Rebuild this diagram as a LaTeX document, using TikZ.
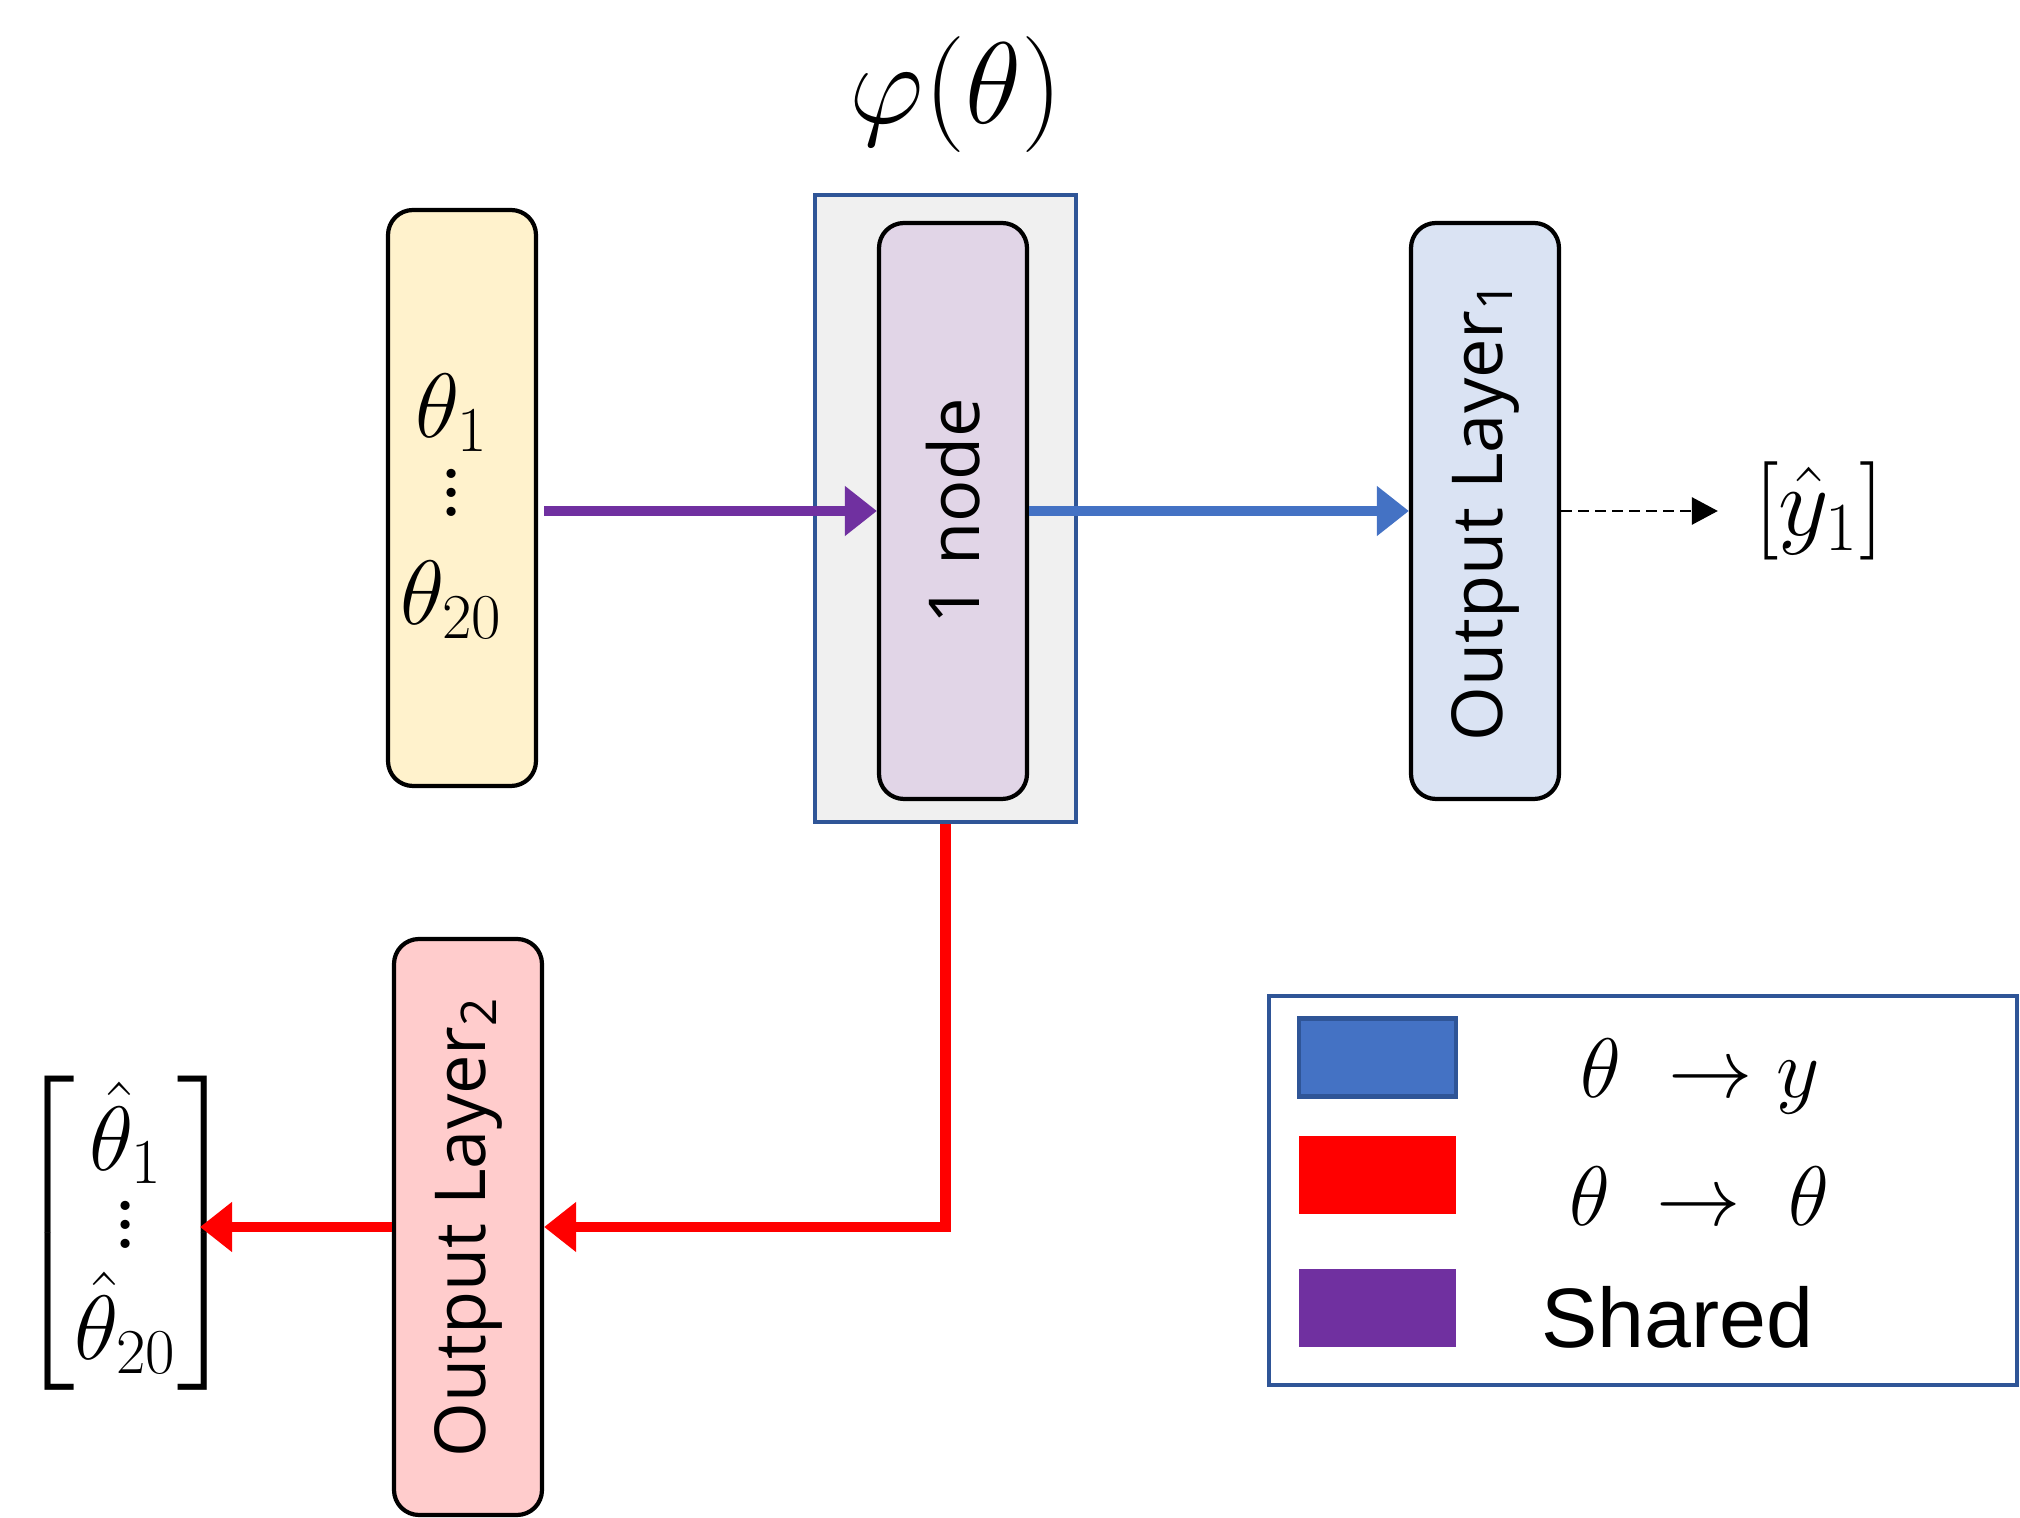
\documentclass[tikz,border=0pt]{standalone}
\usepackage{fix-cm}
\usepackage{amsmath}
\usepackage{fontspec}
\setsansfont{Open Sans}
\newfontfamily\arialfont{Liberation Sans}
\usetikzlibrary{arrows.meta,positioning}

\definecolor{inyellow}{HTML}{FFF2CC}
\definecolor{hidpurple}{HTML}{E1D5E7}
\definecolor{outblue}{HTML}{DAE3F3}
\definecolor{outred}{HTML}{FFCCCC}
\definecolor{sharedgrey}{HTML}{F0F0F0}
\definecolor{frameblue}{HTML}{2F5597}
\definecolor{arrpurple}{HTML}{7030A0}
\definecolor{arrblue}{HTML}{4472C4}
\definecolor{arrred}{HTML}{FF0000}

\newcommand{\tallvdots}{\vbox{\offinterlineskip\fontsize{32}{32}\selectfont\hbox{.}\kern2.8pt\hbox{.}\kern2.8pt\hbox{.}}}

\begin{document}
\begin{tikzpicture}[x=1cm,y=1cm,
    layer/.style={draw=black, line width=1.2pt, rounded corners=2.5mm, minimum width=1.48cm, minimum height=5.76cm, inner sep=0pt},
    vlabel/.style={rotate=90, font=\sffamily\fontsize{20}{24}\selectfont},
    flow/.style={line width=3pt, -{Triangle[length=3.2mm,width=4.8mm]}},
    swatch/.style={minimum width=1.57cm, minimum height=0.78cm, inner sep=0pt},
    bigmath/.style={font=\fontsize{24}{26}\selectfont}]
    \useasboundingbox (0,0) rectangle (20.2,15.18);
    \node[draw=frameblue, fill=sharedgrey, line width=1pt, minimum width=2.61cm, minimum height=6.27cm] (shared) at (9.455,10.095) {};
    \node[font=\fontsize{33}{38}\selectfont] (phi) at (9.56,14.23) {$\varphi(\theta)$};
    \node[layer, fill=inyellow] (in) at (4.62,10.20) {};
    \node[layer, fill=hidpurple] (hid) at (9.53,10.07) {};
    \node[layer, fill=outblue] (out1) at (14.85,10.07) {};
    \node[layer, fill=outred] (out2) at (4.68,2.91) {};
    \node[font=\fontsize{26}{26}\selectfont, align=center] at (4.52,10.12) {$\theta_1$\\[-3.5pt]\tallvdots\\[4.7pt]$\theta_{20}$};
    \node[vlabel] at (hid) {1 node};
    \node[vlabel] at (out1) {Output Layer\textsubscript{1}};
    \node[vlabel] at (out2) {Output Layer\textsubscript{2}};
    \node[font=\fontsize{28}{32}\selectfont] (yhat) at (18.19,10.07) {$[\hat{y}_1]$};
    \node[font=\fontsize{26}{28}\selectfont, inner sep=0pt] (thetahat) at (1.26,2.85) {\renewcommand{\arraystretch}{0.8}$\begin{bmatrix}\hat{\theta}_1\\ \tallvdots\\ \hat{\theta}_{20}\end{bmatrix}$};
    \coordinate (thetatip) at (2.0,2.93);
    \draw[flow, arrpurple] ([xshift=0.6mm]in.east |- hid.west) -- (hid.west);
    \draw[flow, arrblue] (hid.east) -- (out1.west);
    \draw[line width=0.8pt, dash pattern=on 1.1mm off 0.6mm, -{Triangle[length=2.6mm,width=2.7mm]}, shorten >=2.4mm] (out1.east) -- (yhat.west);
    \draw[flow, arrred] (shared.south) |- (out2.east);
    \draw[flow, arrred] (out2.west) -- (out2.west -| thetatip);
    \node[draw=frameblue, line width=1.2pt, minimum width=7.48cm, minimum height=3.89cm] (legend) at (16.43,3.275) {};
    \node[swatch, fill=arrblue, draw=frameblue, line width=1.2pt] (keyblue) at (13.775,4.605) {};
    \node[swatch, fill=arrred] (keyred) at (13.775,3.425) {};
    \node[swatch, fill=arrpurple] (keypurple) at (13.775,2.095) {};
    \node[bigmath] at (17.0,4.42) {$\theta\;\to y$};
    \node[bigmath] at (16.99,3.22) {$\theta\;\to\;\theta$};
    \node[font=\arialfont\fontsize{24}{28}\selectfont] at (16.77,2.01) {Shared};
\end{tikzpicture}
\end{document}
